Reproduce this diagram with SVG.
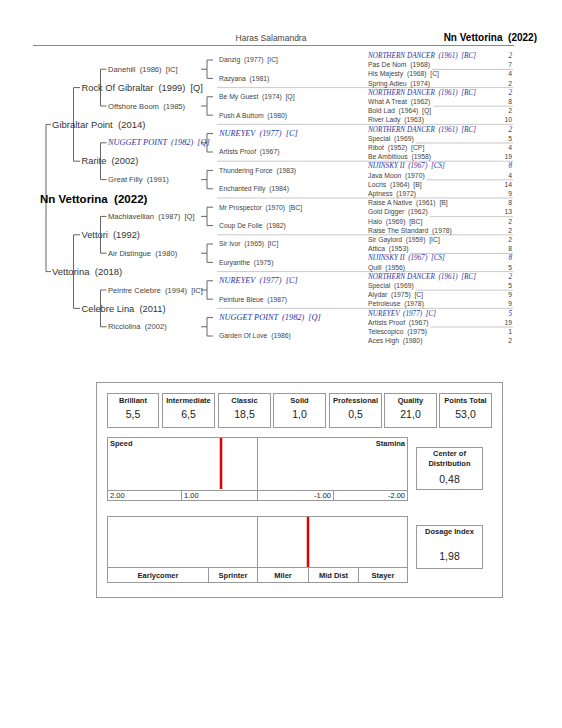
<svg xmlns="http://www.w3.org/2000/svg" width="562" height="728" viewBox="0 0 562 728" xml:space="preserve">
<style>
text{font-family:"Liberation Sans",Arial,sans-serif;white-space:pre}
.g1{font-size:11.5px;font-weight:bold;fill:#000}
.g2{font-size:9.5px;fill:#333}
.g3{font-size:9.3px;fill:#333}
.g4{font-size:7.6px;fill:#444}
.c3{font-size:6.8px;fill:#444}
.c4{font-size:6.8px;fill:#444}
.it{font-family:"Liberation Serif","Times New Roman",serif;font-style:italic;fill:#2b35a5}
.i8{font-size:8.3px}
.i7{font-size:7.2px}
.num{text-anchor:end}
.br{stroke:#666;stroke-width:1;fill:none}
.sep{stroke:#bbb;stroke-width:0.8;fill:none}
.hdr{stroke:#888;stroke-width:1}
.box{fill:#fff;stroke:#999;stroke-width:1}
.ln{stroke:#999;stroke-width:1}
.frame{fill:none;stroke:#999;stroke-width:1}
.lbl{font-size:7.5px;font-weight:bold;text-anchor:middle;fill:#222}
.val{font-size:10.5px;text-anchor:middle;fill:#222}
.sc{font-size:7.5px;fill:#222}
.red{stroke:#e00000;stroke-width:2.5}
</style>
<rect width="562" height="728" fill="#fff"/>
<g id="header">
<text x="271" y="41" style="font-size:8.5px;fill:#444;text-anchor:middle">Haras Salamandra</text>
<text x="537" y="41" style="font-size:10px;font-weight:bold;text-anchor:end">Nn Vettorina  (2022)</text>
<line class="hdr" x1="33" y1="45.5" x2="514" y2="45.5"/>
</g>
<g id="connectors">
<path class="br" d="M46 124.4V271.6M46 124.4H51M46 271.6H51"/>
<path class="br" d="M73.5 87.6V161.2M73.5 87.6H80M73.5 161.2H80M73.5 234.8V308.4M73.5 234.8H80M73.5 308.4H80"/>
<path class="br" d="M100.5 69.2V106M100.5 69.2H106.5M100.5 106H106.5M100.5 142.8V179.6M100.5 142.8H106.5M100.5 179.6H106.5M100.5 216.4V253.2M100.5 216.4H106.5M100.5 253.2H106.5M100.5 290V326.8M100.5 290H106.5M100.5 326.8H106.5"/>
<path class="br" d="M201 69.2H207M207 60V78.4M207 60H213M207 78.4H213
M201 106H207M207 96.8V115.2M207 96.8H213M207 115.2H213
M201 142.8H207M207 133.6V152M207 133.6H213M207 152H213
M201 179.6H207M207 170.4V188.8M207 170.4H213M207 188.8H213
M201 216.4H207M207 207.2V225.6M207 207.2H213M207 225.6H213
M201 253.2H207M207 244V262.4M207 244H213M207 262.4H213
M201 290H207M207 280.8V299.2M207 280.8H213M207 299.2H213
M201 326.8H207M207 317.6V336M207 317.6H213M207 336H213"/>
<path class="sep" d="M217 87.6H513M217 124.4H513M217 161.2H513M217 198H513M217 234.8H513M217 271.6H513M217 308.4H513"/>
<path class="sep" d="M432 69.4H513M433.5 106.2H513M415.7 143H513M426.7 179.8H513M429.7 216.6H513M410.4 253.4H513M415.7 290.2H513M430.5 327H513"/>
</g>
<g id="gen1"><text class="g1" x="40" y="202.5">Nn Vettorina  (2022)</text></g>
<g id="gen2">
<text class="g2" x="52" y="127.7">Gibraltar Point  (2014)</text>
<text class="g2" x="52" y="274.9">Vettorina  (2018)</text>
</g>
<g id="gen3">
<text class="g3" x="81.5" y="90.8">Rock Of Gibraltar  (1999)  [Q]</text>
<text class="g3" x="81.5" y="164.4">Rarite  (2002)</text>
<text class="g3" x="81.5" y="238">Vettori  (1992)</text>
<text class="g3" x="81.5" y="311.6">Celebre Lina  (2011)</text>
</g>
<g id="gen4">
<text class="g4" x="108" y="71.8">Danehill  (1986)  [IC]</text>
<text class="g4" x="108" y="108.6">Offshore Boom  (1985)</text>
<text class="it i8" x="108" y="145.4">NUGGET POINT  (1982)  [Q]</text>
<text class="g4" x="108" y="182.2">Great Filly  (1991)</text>
<text class="g4" x="108" y="219">Machiavellian  (1987)  [Q]</text>
<text class="g4" x="108" y="255.8">Air Distingue  (1980)</text>
<text class="g4" x="108" y="292.6">Peintre Celebre  (1994)  [IC]</text>
<text class="g4" x="108" y="329.4">Ricciolina  (2002)</text>
</g>
<g id="gen5">
<text class="c3" x="219" y="62.4">Danzig  (1977)  [IC]</text>
<text class="c3" x="219" y="80.8">Razyana  (1981)</text>
<text class="c3" x="219" y="99.2">Be My Guest  (1974)  [Q]</text>
<text class="c3" x="219" y="117.6">Push A Buttom  (1980)</text>
<text class="it i8" x="219" y="136">NUREYEV  (1977)  [C]</text>
<text class="c3" x="219" y="154.4">Artists Proof  (1967)</text>
<text class="c3" x="219" y="172.8">Thundering Force  (1983)</text>
<text class="c3" x="219" y="191.2">Enchanted Filly  (1984)</text>
<text class="c3" x="219" y="209.6">Mr Prospector  (1970)  [BC]</text>
<text class="c3" x="219" y="228">Coup De Folie  (1982)</text>
<text class="c3" x="219" y="246.4">Sir Ivor  (1965)  [IC]</text>
<text class="c3" x="219" y="264.8">Euryanthe  (1975)</text>
<text class="it i8" x="219" y="283.2">NUREYEV  (1977)  [C]</text>
<text class="c3" x="219" y="301.6">Peinture Bleue  (1987)</text>
<text class="it i8" x="219" y="320">NUGGET POINT  (1982)  [Q]</text>
<text class="c3" x="219" y="338.4">Garden Of Love  (1986)</text>
</g>
<g id="gen6">
<text class="it i7" x="368" y="58">NORTHERN DANCER  (1961)  [BC]</text><text class="it i7 num" x="512" y="58">2</text>
<text class="c4" x="368" y="67.2">Pas De Nom  (1968)</text><text class="c4 num" x="512" y="67.2">7</text>
<text class="c4" x="368" y="76.4">His Majesty  (1968)  [C]</text><text class="c4 num" x="512" y="76.4">4</text>
<text class="c4" x="368" y="85.6">Spring Adieu  (1974)</text><text class="c4 num" x="512" y="85.6">2</text>
<text class="it i7" x="368" y="94.8">NORTHERN DANCER  (1961)  [BC]</text><text class="it i7 num" x="512" y="94.8">2</text>
<text class="c4" x="368" y="104">What A Treat  (1962)</text><text class="c4 num" x="512" y="104">8</text>
<text class="c4" x="368" y="113.2">Bold Lad  (1964)  [Q]</text><text class="c4 num" x="512" y="113.2">2</text>
<text class="c4" x="368" y="122.4">River Lady  (1963)</text><text class="c4 num" x="512" y="122.4">10</text>
<text class="it i7" x="368" y="131.6">NORTHERN DANCER  (1961)  [BC]</text><text class="it i7 num" x="512" y="131.6">2</text>
<text class="c4" x="368" y="140.8">Special  (1969)</text><text class="c4 num" x="512" y="140.8">5</text>
<text class="c4" x="368" y="150">Ribot  (1952)  [CP]</text><text class="c4 num" x="512" y="150">4</text>
<text class="c4" x="368" y="159.2">Be Ambitious  (1958)</text><text class="c4 num" x="512" y="159.2">19</text>
<text class="it i7" x="368" y="168.4">NIJINSKY II  (1967)  [CS]</text><text class="it i7 num" x="512" y="168.4">8</text>
<text class="c4" x="368" y="177.6">Java Moon  (1970)</text><text class="c4 num" x="512" y="177.6">4</text>
<text class="c4" x="368" y="186.8">Locris  (1964)  [B]</text><text class="c4 num" x="512" y="186.8">14</text>
<text class="c4" x="368" y="196">Aptness  (1972)</text><text class="c4 num" x="512" y="196">9</text>
<text class="c4" x="368" y="205.2">Raise A Native  (1961)  [B]</text><text class="c4 num" x="512" y="205.2">8</text>
<text class="c4" x="368" y="214.4">Gold Digger  (1962)</text><text class="c4 num" x="512" y="214.4">13</text>
<text class="c4" x="368" y="223.6">Halo  (1969)  [BC]</text><text class="c4 num" x="512" y="223.6">2</text>
<text class="c4" x="368" y="232.8">Raise The Standard  (1978)</text><text class="c4 num" x="512" y="232.8">2</text>
<text class="c4" x="368" y="242">Sir Gaylord  (1959)  [IC]</text><text class="c4 num" x="512" y="242">2</text>
<text class="c4" x="368" y="251.2">Attica  (1953)</text><text class="c4 num" x="512" y="251.2">8</text>
<text class="it i7" x="368" y="260.4">NIJINSKY II  (1967)  [CS]</text><text class="it i7 num" x="512" y="260.4">8</text>
<text class="c4" x="368" y="269.6">Quill  (1956)</text><text class="c4 num" x="512" y="269.6">5</text>
<text class="it i7" x="368" y="278.8">NORTHERN DANCER  (1961)  [BC]</text><text class="it i7 num" x="512" y="278.8">2</text>
<text class="c4" x="368" y="288">Special  (1969)</text><text class="c4 num" x="512" y="288">5</text>
<text class="c4" x="368" y="297.2">Alydar  (1975)  [C]</text><text class="c4 num" x="512" y="297.2">9</text>
<text class="c4" x="368" y="306.4">Petroleuse  (1978)</text><text class="c4 num" x="512" y="306.4">9</text>
<text class="it i7" x="368" y="315.6">NUREYEV  (1977)  [C]</text><text class="it i7 num" x="512" y="315.6">5</text>
<text class="c4" x="368" y="324.8">Artists Proof  (1967)</text><text class="c4 num" x="512" y="324.8">19</text>
<text class="c4" x="368" y="334">Telescopico  (1975)</text><text class="c4 num" x="512" y="334">1</text>
<text class="c4" x="368" y="343.2">Aces High  (1980)</text><text class="c4 num" x="512" y="343.2">2</text>
</g>
<g id="dosage-panel">
<rect class="frame" x="96.5" y="382.5" width="406" height="215"/>
<g id="points">
<rect class="box" x="107.5" y="393.5" width="51" height="34"/>
<rect class="box" x="162.5" y="393.5" width="52" height="34"/>
<rect class="box" x="218.5" y="393.5" width="52" height="34"/>
<rect class="box" x="273.5" y="393.5" width="52" height="34"/>
<rect class="box" x="329.5" y="393.5" width="52" height="34"/>
<rect class="box" x="384.5" y="393.5" width="52" height="34"/>
<rect class="box" x="439.5" y="393.5" width="52" height="34"/>
<text class="lbl" x="133" y="403">Brilliant</text><text class="val" x="133" y="418">5,5</text>
<text class="lbl" x="188.5" y="403">Intermediate</text><text class="val" x="188.5" y="418">6,5</text>
<text class="lbl" x="244.5" y="403">Classic</text><text class="val" x="244.5" y="418">18,5</text>
<text class="lbl" x="299.5" y="403">Solid</text><text class="val" x="299.5" y="418">1,0</text>
<text class="lbl" x="355.5" y="403">Professional</text><text class="val" x="355.5" y="418">0,5</text>
<text class="lbl" x="410.5" y="403">Quality</text><text class="val" x="410.5" y="418">21,0</text>
<text class="lbl" x="465.5" y="403">Points Total</text><text class="val" x="465.5" y="418">53,0</text>
</g>
<g id="speed-chart">
<rect class="box" x="107.5" y="437.5" width="300" height="63"/>
<line class="ln" x1="257.5" y1="437.5" x2="257.5" y2="500.5"/>
<line class="ln" x1="107.5" y1="490.5" x2="407.5" y2="490.5"/>
<line class="ln" x1="181.5" y1="490.5" x2="181.5" y2="500.5"/>
<line class="ln" x1="333.5" y1="490.5" x2="333.5" y2="500.5"/>
<text class="sc" x="110" y="446" style="font-weight:bold">Speed</text>
<text class="sc" x="405" y="446" style="font-weight:bold;text-anchor:end">Stamina</text>
<text class="sc" x="110" y="498">2.00</text>
<text class="sc" x="184" y="498">1.00</text>
<text class="sc" x="331" y="498" style="text-anchor:end">-1.00</text>
<text class="sc" x="405" y="498" style="text-anchor:end">-2.00</text>
<line class="red" x1="221" y1="438" x2="221" y2="489"/>
</g>
<g id="aptitude-chart">
<rect class="box" x="107.5" y="516.5" width="300" height="66"/>
<line class="ln" x1="257.5" y1="516.5" x2="257.5" y2="582.5"/>
<line class="ln" x1="107.5" y1="567.5" x2="407.5" y2="567.5"/>
<line class="ln" x1="208.5" y1="567.5" x2="208.5" y2="582.5"/>
<line class="ln" x1="308.5" y1="567.5" x2="308.5" y2="582.5"/>
<line class="ln" x1="358.5" y1="567.5" x2="358.5" y2="582.5"/>
<text class="lbl" x="158" y="578">Earlycomer</text>
<text class="lbl" x="233" y="578">Sprinter</text>
<text class="lbl" x="283" y="578">Miler</text>
<text class="lbl" x="333.5" y="578">Mid Dist</text>
<text class="lbl" x="383" y="578">Stayer</text>
<line class="red" x1="308" y1="517" x2="308" y2="567"/>
</g>
<g id="center-distribution">
<rect class="box" x="416.5" y="447.5" width="66" height="42"/>
<text class="lbl" x="449.5" y="456">Center of</text>
<text class="lbl" x="449.5" y="466">Distribution</text>
<text class="val" x="449.5" y="482.5">0,48</text>
</g>
<g id="dosage-index">
<rect class="box" x="416.5" y="525.5" width="66" height="43"/>
<text class="lbl" x="449.5" y="534">Dosage Index</text>
<text class="val" x="449.5" y="560">1,98</text>
</g>
</g>
</svg>
